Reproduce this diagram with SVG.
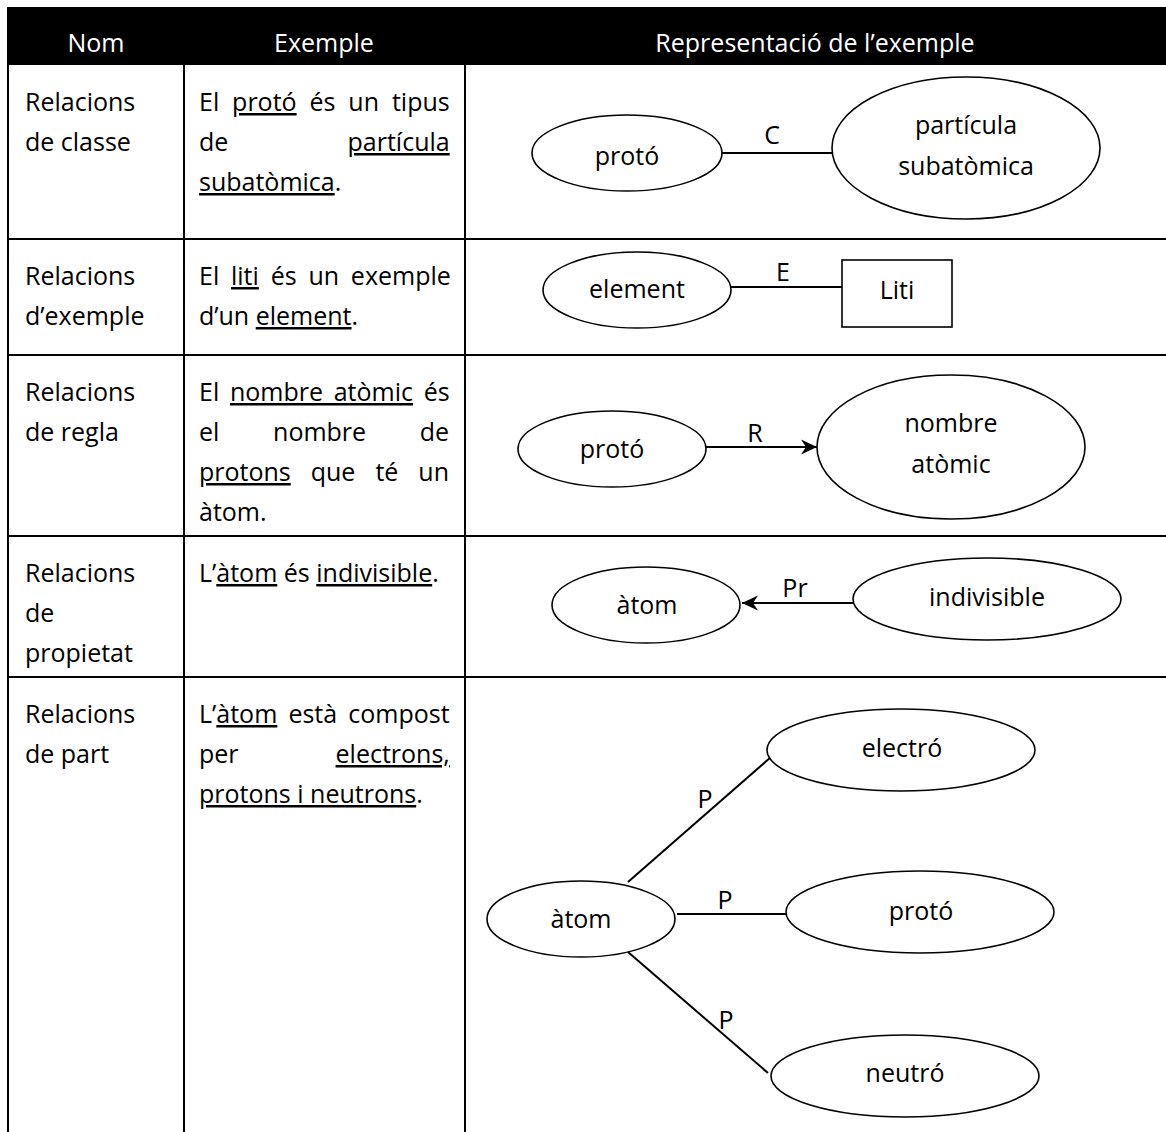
<svg xmlns="http://www.w3.org/2000/svg" width="1166" height="1132" viewBox="0 0 1166 1132">
  <defs>
    <style>
      text { font-family: "Open Sans", "Liberation Sans", sans-serif; font-size: 25px; fill: #000; }
      .hd { fill: #fff; text-anchor: middle; }
      .c { text-anchor: middle; }
      .u { text-decoration: underline; text-decoration-thickness: 2px; text-underline-offset: 3px; }
      .grid { stroke: #000; stroke-width: 2; fill: none; }
      .shape { fill: #fff; stroke: #000; stroke-width: 1.6; }
      .link { stroke: #000; stroke-width: 2; fill: none; }
    </style>
    <marker id="arrow" markerUnits="userSpaceOnUse" markerWidth="17" markerHeight="16" refX="16" refY="8" orient="auto">
      <path d="M0,0.5 L16,8 L0,15.5 L5,8 z" fill="#000"/>
    </marker>
  </defs>

  <rect width="1166" height="1132" fill="#fff"/>

  <!-- table frame -->
  <g id="table">
    <rect x="8" y="7" width="1158" height="58" fill="#000"/>
    <g class="grid">
      <line x1="8" y1="7" x2="8" y2="1132"/>
      <line x1="184" y1="65" x2="184" y2="1132"/>
      <line x1="465" y1="65" x2="465" y2="1132"/>
      <line x1="8" y1="239" x2="1166" y2="239"/>
      <line x1="8" y1="355" x2="1166" y2="355"/>
      <line x1="8" y1="536" x2="1166" y2="536"/>
      <line x1="8" y1="677" x2="1166" y2="677"/>
    </g>
    <text class="hd" x="96" y="52">Nom</text>
    <text class="hd" x="324" y="52">Exemple</text>
    <text class="hd" x="815" y="52">Representació de l’exemple</text>
  </g>

  <!-- column 1: relation names -->
  <g id="names">
    <text x="25" y="111">Relacions</text>
    <text x="25" y="151">de classe</text>
    <text x="25" y="285">Relacions</text>
    <text x="25" y="325">d’exemple</text>
    <text x="25" y="401">Relacions</text>
    <text x="25" y="441">de regla</text>
    <text x="25" y="582">Relacions</text>
    <text x="25" y="622">de</text>
    <text x="25" y="662">propietat</text>
    <text x="25" y="723">Relacions</text>
    <text x="25" y="763">de part</text>
  </g>

  <!-- column 2: justified example sentences -->
  <g id="examples">
    <text x="199" y="111" style="word-spacing:6.4px">El <tspan class="u">protó</tspan> és un tipus</text>
    <text x="199" y="151" style="word-spacing:112.7px">de <tspan class="u">partícula</tspan></text>
    <text x="199" y="191"><tspan class="u">subatòmica</tspan>.</text>

    <text x="199" y="285" style="word-spacing:5.3px">El <tspan class="u">liti</tspan> és un exemple</text>
    <text x="199" y="325">d’un <tspan class="u">element</tspan>.</text>

    <text x="199" y="401" style="word-spacing:4.2px">El <tspan class="u">nombre atòmic</tspan> és</text>
    <text x="199" y="441" style="word-spacing:47.2px">el nombre de</text>
    <text x="199" y="481" style="word-spacing:13.5px"><tspan class="u">protons</tspan> que té un</text>
    <text x="199" y="521">àtom.</text>

    <text x="199" y="582">L’<tspan class="u">àtom</tspan> és <tspan class="u">indivisible</tspan>.</text>

    <text x="199" y="723" style="word-spacing:4.6px">L’<tspan class="u">àtom</tspan> està compost</text>
    <text x="199" y="763" style="word-spacing:90.5px">per <tspan class="u">electrons,</tspan></text>
    <text x="199" y="803"><tspan class="u">protons i neutrons</tspan>.</text>
  </g>

  <!-- connectors -->
  <g id="connectors">
    <line class="link" x1="722" y1="153" x2="835" y2="153"/>
    <text class="c" x="772" y="144">C</text>

    <line class="link" x1="731" y1="287" x2="843" y2="287"/>
    <text class="c" x="783" y="281">E</text>

    <line class="link" x1="706" y1="447" x2="817" y2="447" marker-end="url(#arrow)"/>
    <text class="c" x="755" y="442">R</text>

    <line class="link" x1="855" y1="603" x2="742" y2="603" marker-end="url(#arrow)"/>
    <text class="c" x="795" y="597">Pr</text>

    <line class="link" x1="628" y1="882" x2="771" y2="757"/>
    <text class="c" x="705" y="808">P</text>
    <line class="link" x1="677" y1="914" x2="791" y2="914"/>
    <text class="c" x="725" y="909">P</text>
    <line class="link" x1="628" y1="952" x2="768" y2="1073"/>
    <text class="c" x="726" y="1029">P</text>
  </g>

  <!-- row 1: class relation -->
  <g id="r1-proto">
    <ellipse class="shape" cx="627" cy="153" rx="95" ry="38"/>
    <text class="c" x="627" y="165">protó</text>
  </g>
  <g id="r1-particula">
    <ellipse class="shape" cx="966" cy="148" rx="134" ry="71"/>
    <text class="c" x="966" y="134">partícula</text>
    <text class="c" x="966" y="175">subatòmica</text>
  </g>

  <!-- row 2: example relation -->
  <g id="r2-element">
    <ellipse class="shape" cx="637" cy="290" rx="94" ry="38"/>
    <text class="c" x="637" y="298">element</text>
  </g>
  <g id="r2-liti">
    <rect class="shape" x="842" y="260" width="110" height="67"/>
    <text class="c" x="897" y="299">Liti</text>
  </g>

  <!-- row 3: rule relation -->
  <g id="r3-proto">
    <ellipse class="shape" cx="612" cy="449" rx="94" ry="38"/>
    <text class="c" x="612" y="458">protó</text>
  </g>
  <g id="r3-nombre">
    <ellipse class="shape" cx="951" cy="447" rx="134" ry="72"/>
    <text class="c" x="951" y="432">nombre</text>
    <text class="c" x="951" y="473">atòmic</text>
  </g>

  <!-- row 4: property relation -->
  <g id="r4-atom">
    <ellipse class="shape" cx="646" cy="605" rx="94" ry="38"/>
    <text class="c" x="647" y="614">àtom</text>
  </g>
  <g id="r4-indivisible">
    <ellipse class="shape" cx="987" cy="599" rx="134" ry="41"/>
    <text class="c" x="987" y="606">indivisible</text>
  </g>

  <!-- row 5: part relation -->
  <g id="r5-atom">
    <ellipse class="shape" cx="581" cy="919" rx="94" ry="38"/>
    <text class="c" x="581" y="928">àtom</text>
  </g>
  <g id="r5-electro">
    <ellipse class="shape" cx="901" cy="750" rx="134" ry="41"/>
    <text class="c" x="902" y="757">electró</text>
  </g>
  <g id="r5-proto">
    <ellipse class="shape" cx="920" cy="912" rx="134" ry="41"/>
    <text class="c" x="921" y="920">protó</text>
  </g>
  <g id="r5-neutro">
    <ellipse class="shape" cx="905" cy="1076" rx="134" ry="41"/>
    <text class="c" x="905" y="1082">neutró</text>
  </g>
</svg>
